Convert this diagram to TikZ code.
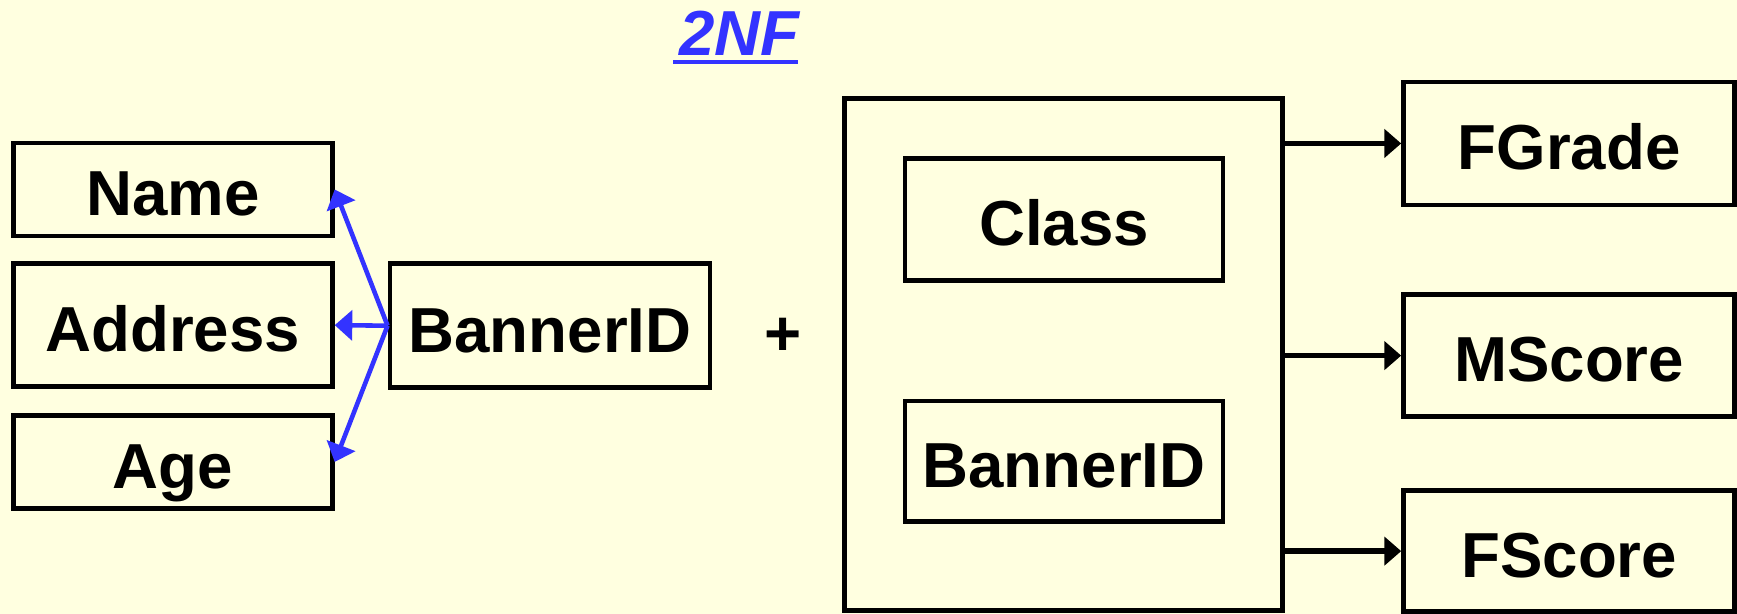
\documentclass[tikz,border=0pt]{standalone}
\usepackage{fontspec}
\setmainfont{Liberation Sans}
\usetikzlibrary{arrows.meta}
\definecolor{paper}{RGB}{255,255,224}
\definecolor{linkblue}{RGB}{51,51,255}

\begin{document}
\begin{tikzpicture}[x=0.011078cm, y=-0.011078cm,
  lbl/.style={font=\fontsize{18.1}{20}\selectfont\bfseries},
  box/.style={lbl, draw=black, line width=1.35pt, inner sep=0pt, text height=15pt, text depth=0pt},
  wh/.style 2 args={minimum width=#1*0.011078cm, minimum height=#2*0.011078cm},
  fd/.style={draw=linkblue, line width=1.3pt, -{Triangle[length=5pt, width=8.5pt]}},
  keyarrow/.style={draw=black, line width=1.5pt, -{Triangle[length=4.8pt, width=8pt]}}
]
  % page
  \fill[paper] (0,0) rectangle (1568,554);
  \useasboundingbox (0,0) rectangle (1568,554);

  % title
  \node[lbl, text=linkblue, anchor=base, inner sep=0pt] (title) at (668,50) {\textit{2NF}};
  \draw[linkblue, line width=0.95pt] ([yshift=-1.9pt, xshift=-1.5pt]title.base west) -- ([yshift=-1.9pt, xshift=-1pt]title.base east);

  % student attributes
  \node[box, wh={288}{84}]  (name)    at (156,171)   {Name};
  \node[box, wh={288}{111}] (address) at (156,293.5) {Address};
  \node[box, wh={288}{84}]  (age)     at (156,417)   {Age};
  \node[box, wh={289}{112}] (bid)     at (496.5,294) {BannerID};

  \draw[fd] (bid.west) -- (name.east);
  \draw[fd] (bid.west) -- (address.east);
  \draw[fd] (bid.west) -- (age.east);

  \node[lbl] (plus) at (707,304) {+};

  % composite key
  \node[box, wh={396}{462}] (key) at (960,320) {};
  \node[box, wh={287}{110}] (class) at (960.5,198)   {Class};
  \node[box, wh={287}{109}] (bid2)  at (960.5,416.5) {BannerID};

  % grade attributes
  \node[box, wh={299}{111}] (fgrade) at (1416.5,129.5) {FGrade};
  \node[box, wh={299}{110}] (mscore) at (1416.5,321)   {MScore};
  \node[box, wh={299}{109}] (fscore) at (1416.5,497.5) {FScore};

  \draw[keyarrow] (fgrade.west -| key.east) -- (fgrade.west);
  \draw[keyarrow] (mscore.west -| key.east) -- (mscore.west);
  \draw[keyarrow] (fscore.west -| key.east) -- (fscore.west);
\end{tikzpicture}
\end{document}
